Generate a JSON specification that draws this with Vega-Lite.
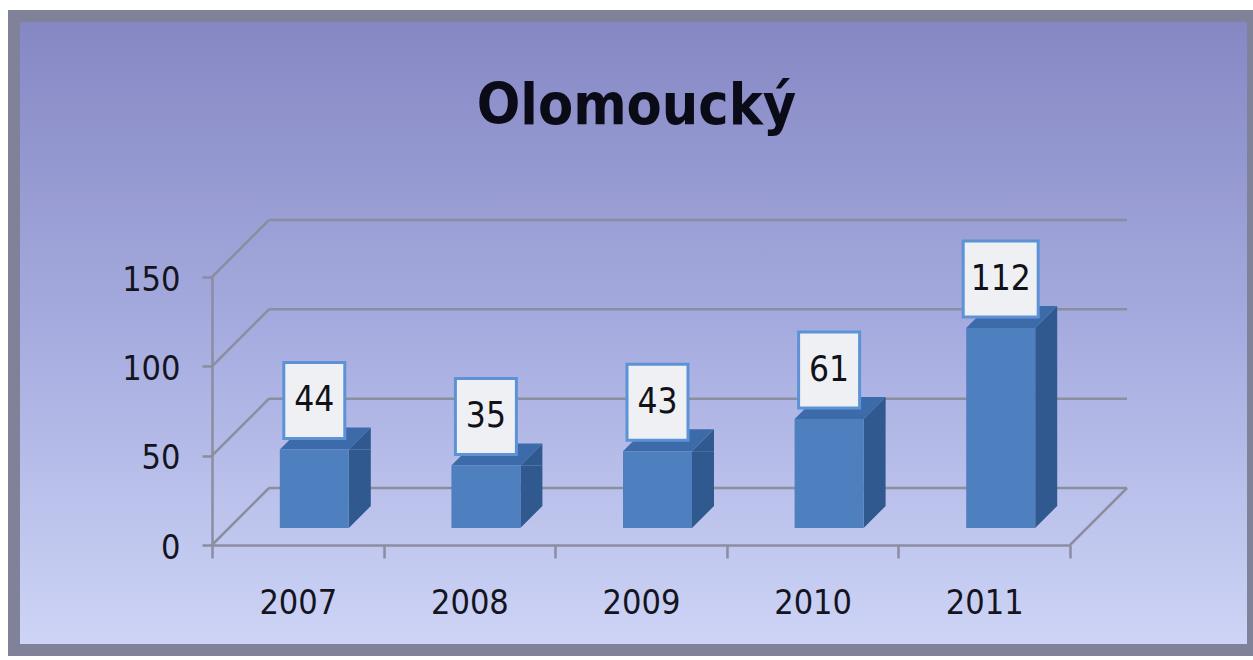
{
  "$schema": "https://vega.github.io/schema/vega-lite/v6.json",
  "width": 1239,
  "height": 634,
  "autosize": {"type": "none"},
  "padding": {"left": 14, "top": 16, "right": 0, "bottom": 10},
  "background": "#ffffff",
  "title": {
    "text": "Olomoucký",
    "font": "DejaVu Sans Condensed",
    "fontSize": 57,
    "fontWeight": "bold",
    "color": "#0b0b18",
    "anchor": "middle",
    "frame": "group",
    "baseline": "alphabetic",
    "dy": 169,
    "dx": 3
  },
  "config": {
    "view": {
      "stroke": "#80829a",
      "strokeWidth": 12,
      "fill": {
        "gradient": "linear",
        "x1": 0, "y1": 0, "x2": 0, "y2": 1,
        "stops": [
          {"offset": 0, "color": "#8587c3"},
          {"offset": 0.5, "color": "#a6acdf"},
          {"offset": 1, "color": "#ced5f6"}
        ]
      }
    }
  },
  "datasets": {
    "bars": [
      {"year": 2007, "v": 44},
      {"year": 2008, "v": 35},
      {"year": 2009, "v": 43},
      {"year": 2010, "v": 61},
      {"year": 2011, "v": 112}
    ],
    "grid": [{"g": 0}, {"g": 50}, {"g": 100}, {"g": 150}]
  },
  "layer": [
    {
      "data": {"name": "bars"},
      "mark": {"type": "bar", "orient": "vertical", "color": "#4e80bf", "size": 69, "xOffset": 16.5, "yOffset": -17, "y2Offset": -17, "opacity": 0},
      "encoding": {
        "x": {
          "field": "year", "type": "quantitative",
          "scale": {"domain": [2006.5, 2011.5], "range": [198, 1056], "nice": false, "zero": false, "padding": 0},
          "axis": {
            "orient": "bottom", "offset": -105, "title": null, "grid": false,
            "values": [2006.5, 2007, 2007.5, 2008, 2008.5, 2009, 2009.5, 2010, 2010.5, 2011, 2011.5],
            "labelExpr": "datum.value % 1 == 0 ? '' + datum.value : ''",
            "labelFont": "DejaVu Sans Condensed",
            "labelFontSize": 34, "labelColor": "#14141e", "labelPadding": 28,
            "labelFlush": false, "labelOverlap": false, "labelBound": false,
            "tickSize": 13, "tickWidth": 2.5, "tickColor": "#8b8da0",
            "tickOpacity": {"condition": {"test": "datum.value % 1 != 0", "value": 1}, "value": 0},
            "domainColor": "#8b8da0", "domainWidth": 2.5
          }
        },
        "y": {
          "field": "v", "type": "quantitative",
          "scale": {"domain": [0, 150], "range": [529, 261], "nice": false, "zero": true, "padding": 0},
          "axis": {
            "orient": "left", "offset": -198, "title": null, "grid": false,
            "values": [0, 50, 100, 150],
            "labelFont": "DejaVu Sans Condensed",
            "labelFontSize": 34, "labelColor": "#14141e", "labelPadding": 22, "labelOffset": 3,
            "labelFlush": false, "labelBound": false,
            "tickSize": 10, "tickWidth": 2.5, "tickColor": "#8b8da0",
            "domainColor": "#8b8da0", "domainWidth": 2.5
          }
        }
      }
    },
    {
      "data": {"name": "grid"},
      "mark": {"type": "rule", "color": "#8b8da0", "strokeWidth": 2.5, "xOffset": 57, "x2Offset": 57, "yOffset": -57},
      "encoding": {
        "x": {"datum": 2006.5, "type": "quantitative"},
        "x2": {"datum": 2011.5},
        "y": {"field": "g", "type": "quantitative"}
      }
    },
    {
      "data": {"name": "grid"},
      "mark": {"type": "rule", "color": "#8b8da0", "strokeWidth": 2.5, "x2Offset": 57, "y2Offset": -57},
      "encoding": {
        "x": {"datum": 2006.5, "type": "quantitative"},
        "x2": {"datum": 2006.5},
        "y": {"field": "g", "type": "quantitative"},
        "y2": {"field": "g"}
      }
    },
    {
      "data": {"name": "grid"},
      "transform": [{"filter": "datum.g == 0"}],
      "mark": {"type": "rule", "color": "#8b8da0", "strokeWidth": 2.5, "x2Offset": 57, "y2Offset": -57},
      "encoding": {
        "x": {"datum": 2011.5, "type": "quantitative"},
        "x2": {"datum": 2011.5},
        "y": {"field": "g", "type": "quantitative"},
        "y2": {"field": "g"}
      }
    },
    {
      "data": {"name": "bars"},
      "mark": {"type": "bar", "orient": "vertical", "color": "#30598f", "size": 22, "xOffset": 62, "yOffset": -17, "y2Offset": -39},
      "encoding": {
        "x": {"field": "year", "type": "quantitative"},
        "y": {"field": "v", "type": "quantitative"},
        "y2": {"datum": 0}
      }
    },
    {
      "data": {"name": "bars"},
      "mark": {"type": "point", "shape": "M34.5,0 L56.5,-22 L56.5,0 Z", "size": 4, "filled": true, "opacity": 1, "color": "#30598f", "strokeWidth": 0, "xOffset": 16.5, "yOffset": -17},
      "encoding": {
        "x": {"field": "year", "type": "quantitative"},
        "y": {"field": "v", "type": "quantitative"}
      }
    },
    {
      "data": {"name": "bars"},
      "mark": {"type": "point", "shape": "M34.5,-22 L56.5,-22 L34.5,0 Z", "size": 4, "filled": true, "opacity": 1, "color": "#30598f", "strokeWidth": 0, "xOffset": 16.5, "yOffset": -17},
      "encoding": {
        "x": {"field": "year", "type": "quantitative"},
        "y": {"datum": 0, "type": "quantitative"}
      }
    },
    {
      "data": {"name": "bars"},
      "mark": {"type": "point", "shape": "M-34.5,0 L34.5,0 L56.5,-22 L-12.5,-22 Z", "size": 4, "filled": true, "opacity": 1, "color": "#3d6aa8", "strokeWidth": 0, "xOffset": 16.5, "yOffset": -17},
      "encoding": {
        "x": {"field": "year", "type": "quantitative"},
        "y": {"field": "v", "type": "quantitative"}
      }
    },
    {
      "data": {"name": "bars"},
      "mark": {"type": "bar", "orient": "vertical", "color": "#4e80bf", "size": 69, "xOffset": 16.5, "yOffset": -17, "y2Offset": -17},
      "encoding": {
        "x": {"field": "year", "type": "quantitative"},
        "y": {"field": "v", "type": "quantitative"},
        "y2": {"datum": 0}
      }
    },
    {
      "data": {"name": "bars"},
      "transform": [{"filter": "datum.v < 100"}],
      "mark": {"type": "bar", "orient": "vertical", "fill": "#eef0f4", "stroke": "#5d93d6", "strokeWidth": 3, "size": 61, "xOffset": 16.5, "yOffset": -104, "y2Offset": -28},
      "encoding": {
        "x": {"field": "year", "type": "quantitative"},
        "y": {"field": "v", "type": "quantitative"},
        "y2": {"field": "v"}
      }
    },
    {
      "data": {"name": "bars"},
      "transform": [{"filter": "datum.v >= 100"}],
      "mark": {"type": "bar", "orient": "vertical", "fill": "#eef0f4", "stroke": "#5d93d6", "strokeWidth": 3, "size": 75, "xOffset": 16.5, "yOffset": -104, "y2Offset": -28},
      "encoding": {
        "x": {"field": "year", "type": "quantitative"},
        "y": {"field": "v", "type": "quantitative"},
        "y2": {"field": "v"}
      }
    },
    {
      "data": {"name": "bars"},
      "mark": {"type": "text", "font": "DejaVu Sans Condensed", "fontSize": 35, "color": "#111118", "align": "center", "baseline": "middle", "xOffset": 16.5, "yOffset": -66},
      "encoding": {
        "x": {"field": "year", "type": "quantitative"},
        "y": {"field": "v", "type": "quantitative"},
        "text": {"field": "v", "type": "quantitative"}
      }
    }
  ]
}
